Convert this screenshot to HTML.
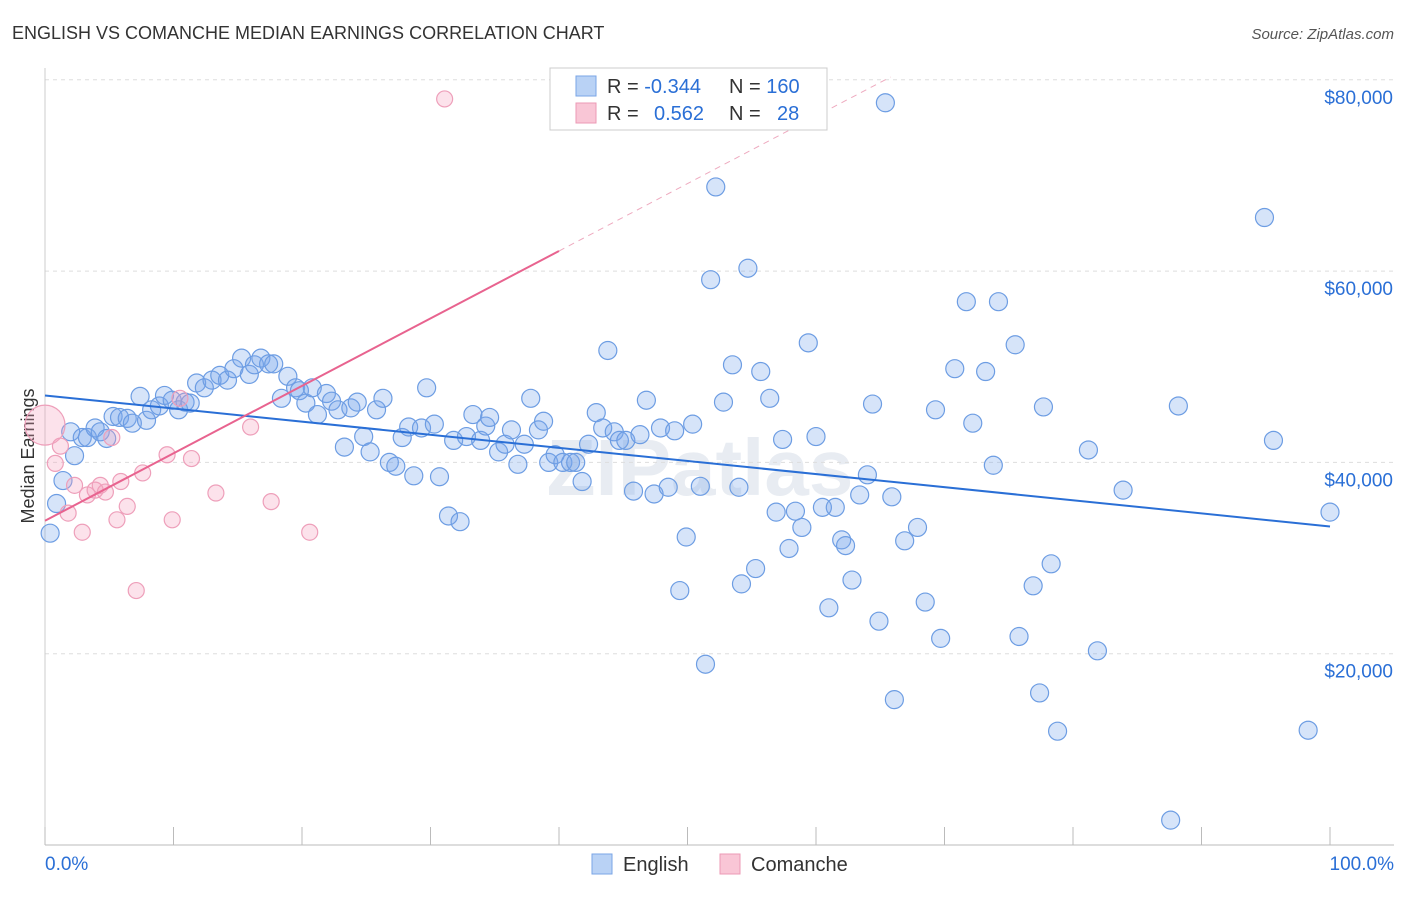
<!DOCTYPE html>
<html><head><meta charset="utf-8">
<style>
body{margin:0;background:#fff;font-family:"Liberation Sans",sans-serif;}
svg text{font-family:"Liberation Sans",sans-serif;}
</style></head>
<body>
<svg id="chart" width="1406" height="892" xmlns="http://www.w3.org/2000/svg">
<text x="12" y="39" font-size="18" fill="#333">ENGLISH VS COMANCHE MEDIAN EARNINGS CORRELATION CHART</text>
<text x="1394" y="39" font-size="15" fill="#555" font-style="italic" text-anchor="end">Source: ZipAtlas.com</text>
<text x="34" y="456" font-size="18" fill="#333" text-anchor="middle" transform="rotate(-90 34 456)">Median Earnings</text>
<text x="700" y="495" font-size="80" fill="#e8ecf2" text-anchor="middle" font-weight="bold">ZIPatlas</text>
<g id="grid"></g><g id="marks"></g><g id="trends"></g>
<g>
<rect x="550" y="68" width="277" height="62" fill="#fff" stroke="#ccc"/>
<rect x="576" y="76" width="20" height="20" fill="#b9d2f5" stroke="#7aa5e6"/>
<rect x="576" y="103" width="20" height="20" fill="#f9c6d6" stroke="#ec9ab5"/>
<text x="607" y="93" font-size="20" fill="#333">R = <tspan fill="#2a6fd6">-0.344</tspan></text>
<text x="729" y="93" font-size="20" fill="#333">N = <tspan fill="#2a6fd6">160</tspan></text>
<text x="607" y="120" font-size="20" fill="#333">R = <tspan fill="#2a6fd6" x="654">0.562</tspan></text>
<text x="729" y="120" font-size="20" fill="#333">N = <tspan fill="#2a6fd6" x="777">28</tspan></text>
</g>
<g>
<rect x="592" y="854" width="20" height="20" fill="#b9d2f5" stroke="#7aa5e6"/>
<text x="623" y="871" font-size="20" fill="#333">English</text>
<rect x="720" y="854" width="20" height="20" fill="#f9c6d6" stroke="#ec9ab5"/>
<text x="751" y="871" font-size="20" fill="#333">Comanche</text>
</g>
<text x="45" y="870" font-size="19" fill="#2a6fd6">0.0%</text>
<text x="1394" y="870" font-size="19" fill="#2a6fd6" text-anchor="end">100.0%</text>
</svg>
<script>
const yTicks=[20000,40000,60000,80000];
const yTickLabels=["$20,000","$40,000","$60,000","$80,000"];
const englishX=[0.4,0.9,1.4,2.0,2.3,2.9,3.3,3.9,4.3,4.8,5.3,5.8,6.4,6.8,7.4,7.9,8.3,8.9,9.3,9.9,10.4,10.9,11.3,11.8,12.4,13.0,13.6,14.2,14.7,15.3,15.9,16.3,16.8,17.4,17.8,18.4,18.9,19.5,19.8,20.3,20.8,21.2,21.9,22.3,22.8,23.3,23.8,24.3,24.8,25.3,25.8,26.3,26.8,27.3,27.8,28.3,28.7,29.3,29.7,30.3,30.7,31.4,31.8,32.3,32.8,33.3,33.9,34.3,34.6,35.3,35.8,36.3,36.8,37.3,37.8,38.4,38.8,39.2,39.7,40.3,40.9,41.3,41.8,42.3,42.9,43.4,43.8,44.3,44.7,45.2,45.8,46.3,46.8,47.4,47.9,48.5,49.0,49.4,49.9,50.4,51.0,51.4,51.8,52.2,52.8,53.5,54.0,54.2,54.7,55.3,55.7,56.4,56.9,57.4,57.9,58.4,58.9,59.4,60.0,60.5,61.0,61.5,62.0,62.3,62.8,63.4,64.0,64.4,64.9,65.4,65.9,66.1,66.9,67.9,68.5,69.3,69.7,70.8,71.7,72.2,73.2,73.8,74.2,75.5,75.8,76.9,77.4,77.7,78.3,78.8,81.2,81.9,83.9,87.6,88.2,94.9,95.6,98.3,100];
const englishY=[32.6,35.7,38.1,43.2,40.7,42.6,42.6,43.6,43.2,42.5,44.8,44.7,44.6,44.1,46.9,44.4,45.5,45.9,47.0,46.5,45.5,46.3,46.2,48.3,47.8,48.6,49.1,48.6,49.8,50.9,49.2,50.2,50.9,50.3,50.3,46.7,49.0,47.8,47.5,46.2,47.8,45.0,47.2,46.4,45.5,41.6,45.7,46.3,42.7,41.1,45.5,46.7,40.0,39.6,42.6,43.7,38.6,43.6,47.8,44.0,38.5,34.4,42.3,33.8,42.7,45.0,42.3,43.8,44.7,41.1,41.9,43.4,39.8,41.9,46.7,43.4,44.3,40.0,40.8,40.0,40.0,40.0,38.0,41.9,45.2,43.6,51.7,43.2,42.3,42.3,37.0,42.9,46.5,36.7,43.6,37.4,43.3,26.6,32.2,44.0,37.5,18.9,59.1,68.8,46.3,50.2,37.4,27.3,60.3,28.9,49.5,46.7,34.8,42.4,31.0,34.9,33.2,52.5,42.7,35.3,24.8,35.3,31.9,31.3,27.7,36.6,38.7,46.1,23.4,77.6,36.4,15.2,31.8,33.2,25.4,45.5,21.6,49.8,56.8,44.1,49.5,39.7,56.8,52.3,21.8,27.1,15.9,45.8,29.4,11.9,41.3,20.3,37.1,2.6,45.9,65.6,42.3,12.0,34.8];
const comancheX=[0.0,0.8,1.2,1.8,2.3,2.9,3.3,3.9,4.3,4.7,5.2,5.6,5.9,6.4,7.1,7.6,9.5,9.9,10.5,11.4,13.3,16.0,17.6,20.6,31.1];
const comancheY=[43.9,39.9,41.7,34.7,37.6,32.7,36.6,37.1,37.6,36.9,42.6,34.0,38.0,35.4,26.6,38.9,40.8,34.0,46.7,40.4,36.8,43.7,35.9,32.7,78.0];
const englishTrend=[47.0,33.3];
const comancheTrend=[33.9,0.705];
const NS="http://www.w3.org/2000/svg";
const X=p=>45+p*12.85;
const Y=v=>845-v/20000*191.3;
function mk(tag,attrs,parent){const e=document.createElementNS(NS,tag);for(const k in attrs)e.setAttribute(k,attrs[k]);parent.appendChild(e);return e;}
const grid=document.getElementById('grid'),marks=document.getElementById('marks'),trends=document.getElementById('trends');
yTicks.forEach((t,i)=>{
 const l=mk('line',{x1:45,x2:1394,y1:Y(t),y2:Y(t),stroke:'#ddd','stroke-dasharray':'4,4'},grid);
 
 
 const tx=mk('text',{x:1393,y:Y(t)+24,'font-size':19,fill:'#2a6fd6','text-anchor':'end'},grid);
 tx.textContent=yTickLabels[i];
 
 
});
const ax=mk('line',{x1:45,x2:1394,y1:845,y2:845,stroke:'#bbb'},grid);


const ay=mk('line',{x1:45,x2:45,y1:68,y2:845,stroke:'#ccc'},grid);


for(let i=0;i<=10;i++){
 const t=mk('line',{x1:X(i*10),x2:X(i*10),y1:827,y2:845,stroke:'#bbb'},grid);
 
 
}
englishX.forEach((x,i)=>{
 const c=mk('circle',{cx:X(x),cy:Y(englishY[i]*1000),r:9,fill:'rgba(120,165,235,0.3)',stroke:'#6d9de3','stroke-width':1.2},marks);
 
 
});
comancheX.forEach((x,i)=>{
 const c=mk('circle',{cx:X(x),cy:Y(comancheY[i]*1000),r:i===0?20:8,fill:'rgba(245,160,190,0.3)',stroke:'#ee9fba','stroke-width':1.2},marks);
 
 
});
const bl=mk('line',{x1:X(0),y1:Y(englishTrend[0]*1000),x2:X(100),y2:Y(englishTrend[1]*1000),stroke:'#2a6fd6','stroke-width':2},trends);


const pc=x=>Y((comancheTrend[0]+comancheTrend[1]*x)*1000);
const pl=mk('line',{x1:X(0),y1:pc(0),x2:X(40),y2:pc(40),stroke:'#e8638f','stroke-width':2},trends);


const pd=mk('line',{x1:X(40),y1:pc(40),x2:X(65.8),y2:pc(65.8),stroke:'#eeaabf','stroke-width':1,'stroke-dasharray':'6,5'},trends);


</script>
</body></html>
